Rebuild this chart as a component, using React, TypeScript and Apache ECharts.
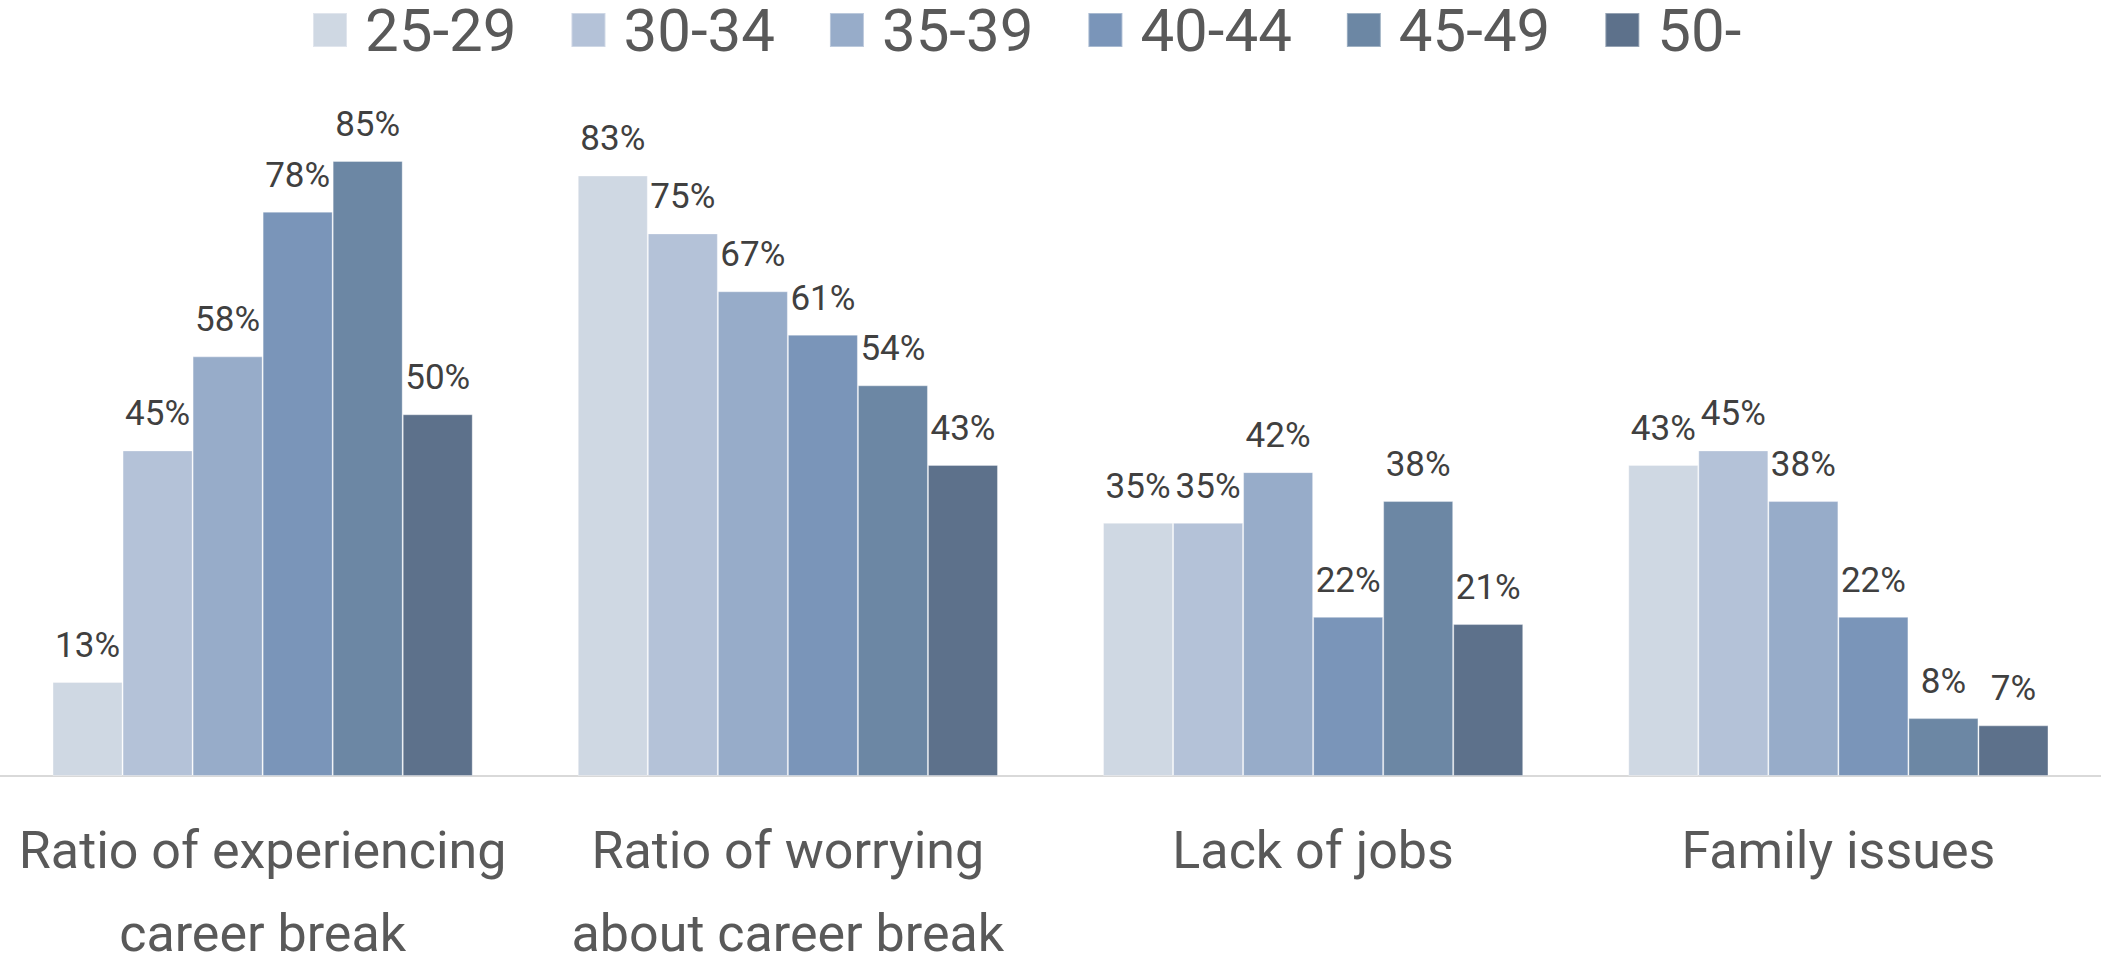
import React, { useEffect, useRef } from "react";
import * as echarts from "echarts";

const categories = [
  "Ratio of experiencing\ncareer break",
  "Ratio of worrying\nabout career break",
  "Lack of jobs",
  "Family issues",
];
const ageGroups = ["25-29", "30-34", "35-39", "40-44", "45-49", "50-"];
const v25_29 = [13, 83, 35, 43];
const v30_34 = [45, 75, 35, 45];
const v35_39 = [58, 67, 42, 38];
const v40_44 = [78, 61, 22, 22];
const v45_49 = [85, 54, 38, 8];
const v50 = [50, 43, 21, 7];
const seriesValues = [v25_29, v30_34, v35_39, v40_44, v45_49, v50];
const colors = ["#cfd8e3", "#b4c2d8", "#97acc9", "#7a95b9", "#6c87a4", "#5d718b"];

export default function App() {
  const ref = useRef<HTMLDivElement>(null);
  useEffect(() => {
    if (!ref.current) return;
    const chart = echarts.init(ref.current, undefined, { renderer: "svg" });
    chart.setOption({
      animation: false,
      backgroundColor: "#ffffff",
      textStyle: { fontFamily: "Roboto" },
      color: colors,
      legend: {
        left: 312,
        top: 0,
        padding: 0,
        itemWidth: 34,
        itemHeight: 34,
        itemGap: 54,
        icon: "rect",
        textStyle: {
          fontSize: 60,
          color: "#595959",
          fontFamily: "Roboto",
          padding: [0, 0, 0, 13],
        },
        data: ageGroups,
      },
      grid: {
        left: 0,
        right: 0,
        top: 52.5,
        bottom: 182,
        containLabel: false,
        outerBoundsMode: "none",
      },
      xAxis: {
        type: "category",
        data: categories,
        axisLine: { show: true, lineStyle: { color: "#d9d9d9", width: 2 } },
        axisTick: { show: false },
        axisLabel: {
          fontSize: 52,
          color: "#595959",
          fontFamily: "Roboto",
          lineHeight: 83,
          margin: 33,
          interval: 0,
        },
      },
      yAxis: {
        type: "value",
        min: 0,
        max: 100,
        show: false,
        splitLine: { show: false },
      },
      series: ageGroups.map((name, i) => ({
        name,
        type: "bar",
        data: seriesValues[i],
        barGap: "0%",
        barCategoryGap: "20%",
        itemStyle: { color: colors[i], borderColor: "rgba(255,255,255,0.35)", borderWidth: 1 },
        label: {
          show: true,
          position: "top",
          distance: 19,
          fontSize: 35,
          color: "#404040",
          fontFamily: "Roboto",
          formatter: (p: any) => `${p.value}%`,
        },
      })),
    });
    return () => chart.dispose();
  }, []);
  return (
    <div
      ref={ref}
      style={{ position: "fixed", left: 0, top: 0, width: 2101, height: 958 }}
    />
  );
}
